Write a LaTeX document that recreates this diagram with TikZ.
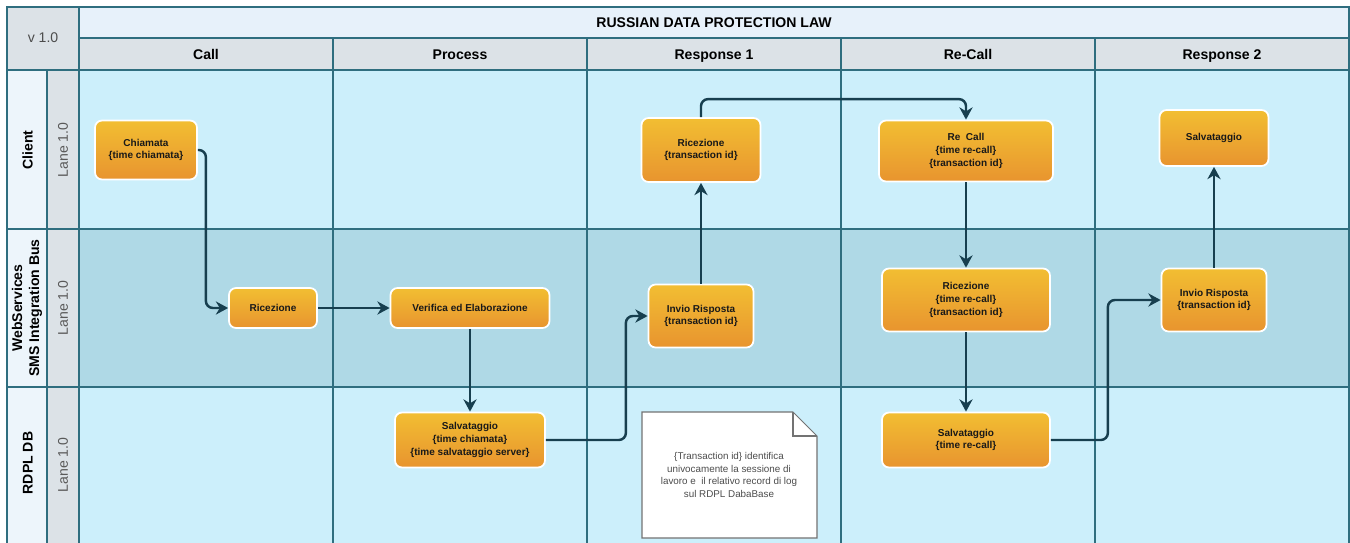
\documentclass[tikz,border=0pt]{standalone}
\usepackage{fontspec}
\setmainfont{Liberation Sans}
\usetikzlibrary{arrows.meta,calc,positioning}
\definecolor{gridline}{HTML}{2F6E7F}
\definecolor{laneA}{HTML}{CCEFFB}
\definecolor{laneB}{HTML}{AFD9E6}
\definecolor{headgray}{HTML}{DCE2E7}
\definecolor{titlebg}{HTML}{E7F1FA}
\definecolor{namebg}{HTML}{EDF5FB}
\definecolor{boxtop}{HTML}{F2BE32}
\definecolor{boxbot}{HTML}{E8942F}
\definecolor{flowline}{HTML}{173F4F}

\begin{document}
\begin{tikzpicture}[x=0.02cm, y=-0.02cm,
    procbox/.style={rounded corners=4pt, draw=white, line width=1pt, top color=boxtop, bottom color=boxbot,
        align=center, font=\fontsize{5.7}{7.2}\selectfont\bfseries, text=black!90, inner sep=1pt},
    flow/.style={-{Stealth[length=7pt,width=7.5pt]}, line width=1.4pt, draw=flowline, rounded corners=4pt},
    gridl/.style={draw=gridline, line width=0.9pt},
    headtxt/.style={font=\fontsize{8}{9.6}\selectfont\bfseries, text height=1.6ex, text depth=0.4ex},
    lanetxt/.style={font=\fontsize{8}{9.6}\selectfont, text=black!65, rotate=90}]
    \useasboundingbox (0,0) rectangle (1350,542);

    % Backgrounds
    \fill[laneA] (79,70) rectangle (1349,229);
    \fill[laneB] (79,229) rectangle (1349,387);
    \fill[laneA] (79,387) rectangle (1349,545);
    \fill[titlebg] (79,7) rectangle (1349,38);
    \fill[headgray] (79,38) rectangle (1349,70);
    \fill[headgray] (7,7) rectangle (79,70);
    \fill[namebg] (7,70) rectangle (47,545);
    \fill[headgray] (47,70) rectangle (79,545);

    % Grid
    \draw[gridl] (7,545) -- (7,7) -- (1349,7) -- (1349,545);
    \draw[gridl] (79,38) -- (1349,38);
    \foreach \y in {70,229,387} \draw[gridl] (7,\y) -- (1349,\y);
    \draw[gridl] (47,70) -- (47,545);
    \draw[gridl] (79,7) -- (79,545);
    \foreach \x in {333,587,841,1095} \draw[gridl] (\x,38) -- (\x,545);

    % Headers
    \node[font=\fontsize{8}{9.6}\selectfont, text=black!70] (ver) at (43,38) {v 1.0};
    \node[headtxt] (title) at (714,22) {RUSSIAN DATA PROTECTION LAW};
    \node[headtxt] (hcall) at (206,54) {Call};
    \node[headtxt] (hproc) at (460,54) {Process};
    \node[headtxt] (hresa) at (714,54) {Response 1};
    \node[headtxt] (hrecall) at (968,54) {Re-Call};
    \node[headtxt] (hresb) at (1222,54) {Response 2};

    % Lane labels
    \node[headtxt, rotate=90] (lclient) at (27,150) {Client};
    \node[headtxt, rotate=90, align=center, text height=, text depth=] (lws) at (27,308) {WebServices\\SMS Integration Bus};
    \node[headtxt, rotate=90] (ldb) at (27,463) {RDPL DB};
    \node[lanetxt] (lnA) at (63,150) {Lane 1.0};
    \node[lanetxt] (lnB) at (63,308) {Lane 1.0};
    \node[lanetxt] (lnC) at (63,465) {Lane 1.0};

    % Call
    \node[procbox, minimum width=2.04cm, minimum height=1.18cm] (chiam) at (146,150) {Chiamata\\\{time chiamata\}};
    \node[procbox, minimum width=1.76cm, minimum height=0.8cm] (ricws) at (273,308) {Ricezione};

    % Process
    \node[procbox, minimum width=3.18cm, minimum height=0.8cm] (verif) at (470,308) {Verifica ed Elaborazione};
    \node[procbox, minimum width=3.0cm, minimum height=1.1cm] (salvA) at (470,440) {Salvataggio\\\{time chiamata\}\\\{time salvataggio server\}};

    % Response 1
    \node[procbox, minimum width=2.38cm, minimum height=1.28cm] (riccl) at (701,150) {Ricezione\\\{transaction id\}};
    \node[procbox, minimum width=2.1cm, minimum height=1.26cm] (invioA) at (701,316) {Invio Risposta\\\{transaction id\}};
    \draw[fill=white, draw=black!55, line width=0.6pt] (642,412) -- (793,412) -- (817,436) -- (817,538) -- (642,538) -- cycle
        (729,475) node[align=center, font=\fontsize{5.6}{7.2}\selectfont, text=black!70] (note)
        {\{Transaction id\} identifica\\univocamente la sessione di\\lavoro e\ \ il relativo record di log\\sul RDPL DabaBase};
    \draw[draw=black!55, line width=0.6pt] (793,412) -- (793,436) -- (817,436);

    % Re-Call
    \node[procbox, minimum width=3.48cm, minimum height=1.22cm] (recall) at (966,151) {Re\ \ Call\\\{time re-call\}\\\{transaction id\}};
    \node[procbox, minimum width=3.36cm, minimum height=1.26cm] (ricrc) at (966,300) {Ricezione\\\{time re-call\}\\\{transaction id\}};
    \node[procbox, minimum width=3.36cm, minimum height=1.1cm] (salvB) at (966,440) {Salvataggio\\\{time re-call\}};

    % Response 2
    \node[procbox, minimum width=2.18cm, minimum height=1.12cm] (salvC) at (1214,138) {Salvataggio};
    \node[procbox, minimum width=2.1cm, minimum height=1.26cm] (invioB) at (1214,300) {Invio Risposta\\\{transaction id\}};

    % Flow
    \draw[flow] (chiam.east) -- ++(8,0) |- (ricws.west);
    \draw[flow] (ricws) -- (verif);
    \draw[flow] (verif) -- (salvA);
    \draw[flow] (salvA.east) -- ++(80,0) |- (invioA.west);
    \draw[flow] (invioA) -- (riccl);
    \draw[flow] (riccl.north) -- ++(0,-18) -| (recall.north);
    \draw[flow] (recall) -- (ricrc);
    \draw[flow] (ricrc) -- (salvB);
    \draw[flow] (salvB.east) -- ++(57,0) |- (invioB.west);
    \draw[flow] (invioB) -- (salvC);
\end{tikzpicture}
\end{document}
